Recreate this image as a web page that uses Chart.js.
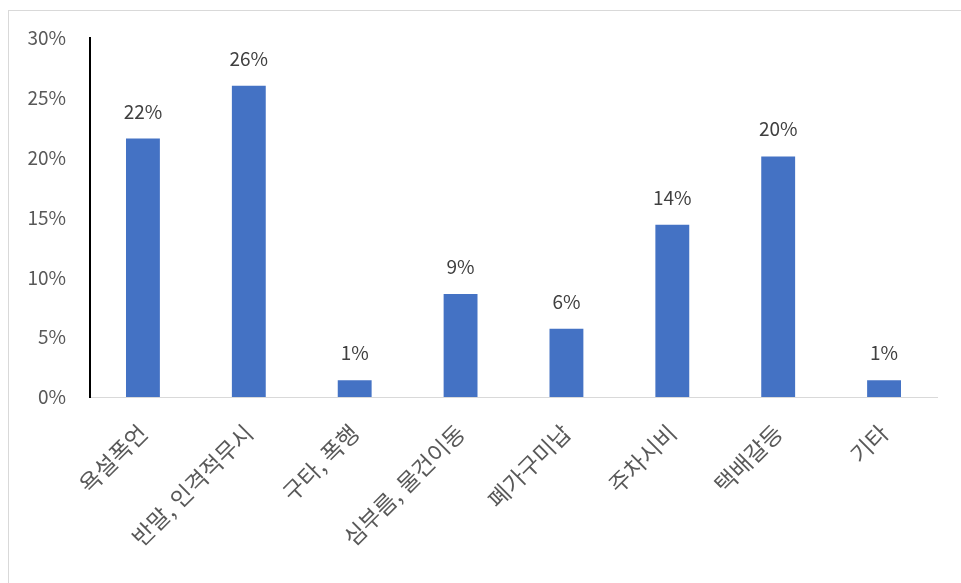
<!DOCTYPE html>
<html>
<head>
<meta charset="utf-8">
<script src="https://cdn.jsdelivr.net/npm/chart.js@4/dist/chart.umd.min.js"></script>
<style>
  html, body { margin: 0; padding: 0; background: #fff; }
  #frame {
    position: absolute; left: 8px; top: 10px; right: 0; bottom: 0;
    border-top: 1px solid #d9d9d9; border-left: 1px solid #d9d9d9;
  }
  #chart { position: absolute; left: 0; top: 0; }
</style>
</head>
<body>
<div id="frame"></div>
<canvas id="chart" width="961" height="583"></canvas>
<script>
// 항목별 비율 (%)
const categories = ["욕설폭언", "반말, 인격적무시", "구타, 폭행", "심부름, 물건이동", "폐가구미납", "주차시비", "택배갈등", "기타"];
const values = [21.6, 26.0, 1.4, 8.6, 5.7, 14.4, 20.1, 1.4];
const yTicks = [0, 5, 10, 15, 20, 25, 30];

const FONT = '"Noto Sans CJK KR", "Noto Sans", sans-serif';

// 막대 위 값 표시
const valueLabels = {
  id: "valueLabels",
  afterDatasetsDraw(chart) {
    const ctx = chart.ctx;
    const meta = chart.getDatasetMeta(0);
    ctx.save();
    ctx.font = "19px " + FONT;
    ctx.fillStyle = "#404040";
    ctx.textAlign = "center";
    ctx.textBaseline = "alphabetic";
    meta.data.forEach((bar, i) => {
      ctx.fillText(Math.round(values[i]) + "%", bar.x, bar.y - 20);
    });
    ctx.restore();
  },
};

new Chart(document.getElementById("chart").getContext("2d"), {
  type: "bar",
  data: {
    labels: categories,
    datasets: [
      {
        data: values,
        backgroundColor: "#4472C4",
        barPercentage: 1,
        categoryPercentage: 0.32,
      },
    ],
  },
  options: {
    responsive: false,
    animation: false,
    layout: { padding: { top: 38, right: 24, bottom: 0, left: 0 } },
    plugins: {
      legend: { display: false },
      tooltip: { enabled: false },
    },
    scales: {
      x: {
        grid: { display: false, drawTicks: false },
        border: { display: true, color: "#d9d9d9", width: 1 },
        ticks: {
          color: "#595959",
          font: { family: FONT, size: 23 },
          minRotation: 45,
          maxRotation: 45,
          padding: 22,
        },
        afterFit: (scale) => { scale.height = 186; },
      },
      y: {
        min: 0,
        max: 30,
        afterBuildTicks: (scale) => { scale.ticks = yTicks.map((v) => ({ value: v })); },
        grid: { display: false, drawTicks: false },
        border: { display: true, color: "#000", width: 2 },
        ticks: {
          color: "#595959",
          font: { family: FONT, size: 19 },
          padding: 24,
          callback: (v) => v + "%",
        },
        afterFit: (scale) => { scale.width = 90; },
      },
    },
  },
  plugins: [valueLabels],
});
</script>
</body>
</html>
